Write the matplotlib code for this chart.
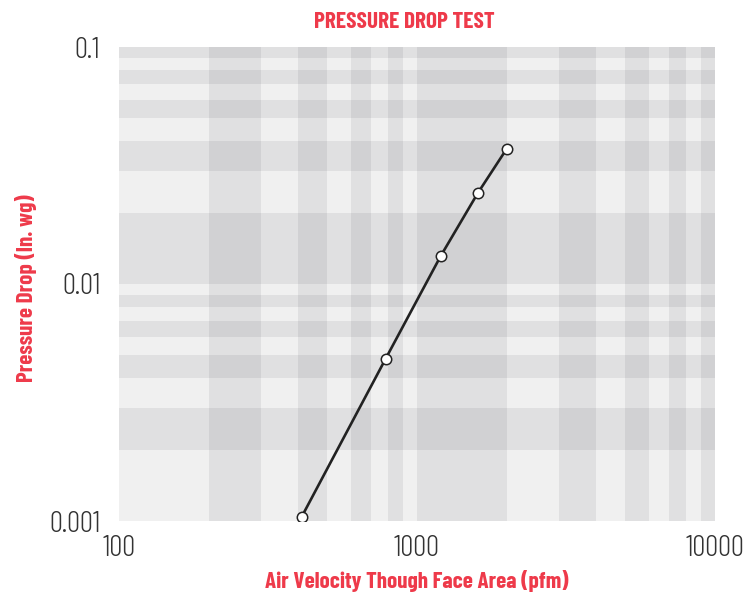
import matplotlib
matplotlib.use("Agg")
import matplotlib.pyplot as plt
from matplotlib import font_manager as fm
import numpy as np

velocity = [410, 785, 1200, 1600, 2000]
pressure = [0.00104, 0.00484, 0.0131, 0.0242, 0.0372]
x_ticks = [100, 1000, 10000]
x_labels = ["100", "1000", "10000"]
y_ticks = [0.001, 0.01, 0.1]
y_labels = ["0.001", "0.01", "0.1"]
title = "PRESSURE DROP TEST"
xlabel = "Air Velocity Though Face Area (pfm)"
ylabel = "Pressure Drop (In. wg)"

names = {f.name for f in fm.fontManager.ttflist}
narrow = "DejaVu Sans"
for cand in ["Barlow Condensed", "Roboto Condensed", "Archivo Narrow", "Asap Condensed"]:
    if cand in names:
        narrow = cand
        break

W, H = 756, 594
red = "#ee3a4a"
fig = plt.figure(figsize=(W / 100, H / 100), dpi=100)
ax = fig.add_axes([119 / W, 1 - 521 / H, (715 - 119) / W, (521 - 47) / H])
ax.set_xscale("log")
ax.set_yscale("log")
ax.set_xlim(100, 10000)
ax.set_ylim(0.001, 0.1)
ax.set_facecolor("#f0f0f0")

def minor_edges(lo, hi):
    edges = []
    d = lo
    while d < hi:
        for k in range(1, 10):
            edges.append(d * k)
        d *= 10
    edges.append(hi)
    return edges

xe = minor_edges(100, 10000)
for i in range(len(xe) - 1):
    if i % 2 == 1:
        ax.axvspan(xe[i], xe[i + 1], color="#00000c", alpha=0.063, lw=0, zorder=0)
ye = minor_edges(0.001, 0.1)
for i in range(len(ye) - 1):
    if i % 2 == 1:
        ax.axhspan(ye[i], ye[i + 1], color="#00000c", alpha=0.063, lw=0, zorder=0)

ax.plot(velocity, pressure, color="#222222", lw=1.9, marker="o", ms=7.5,
        mfc="white", mec="#222222", mew=1.1, zorder=3)

for s in ax.spines.values():
    s.set_visible(False)
ax.set_xticks(x_ticks)
ax.set_xticklabels(x_labels)
ax.set_yticks(y_ticks)
ax.set_yticklabels(y_labels)
ax.minorticks_off()
ax.tick_params(axis="y", length=0, pad=13.5)
ax.tick_params(axis="x", length=0, pad=10)
ax.tick_params(labelsize=21, labelcolor="#333333")
for lab in ax.get_xticklabels() + ax.get_yticklabels():
    lab.set_family(narrow)
    lab.set_fontweight(300)

fig.text(404 / W, 1 - 22.5 / H, title, color=red, fontsize=16.8, fontweight="bold",
         family=narrow, ha="center", va="center")
fig.text(416.5 / W, 1 - 588 / H, xlabel, color=red, fontsize=16.6, fontweight="bold",
         family=narrow, ha="center", va="baseline")
fig.text(26.5 / W, 1 - 288.5 / H, ylabel, color=red, fontsize=16.6, fontweight="bold",
         family=narrow, ha="center", va="center", rotation=90)

fig.savefig("out.png", dpi=100)
